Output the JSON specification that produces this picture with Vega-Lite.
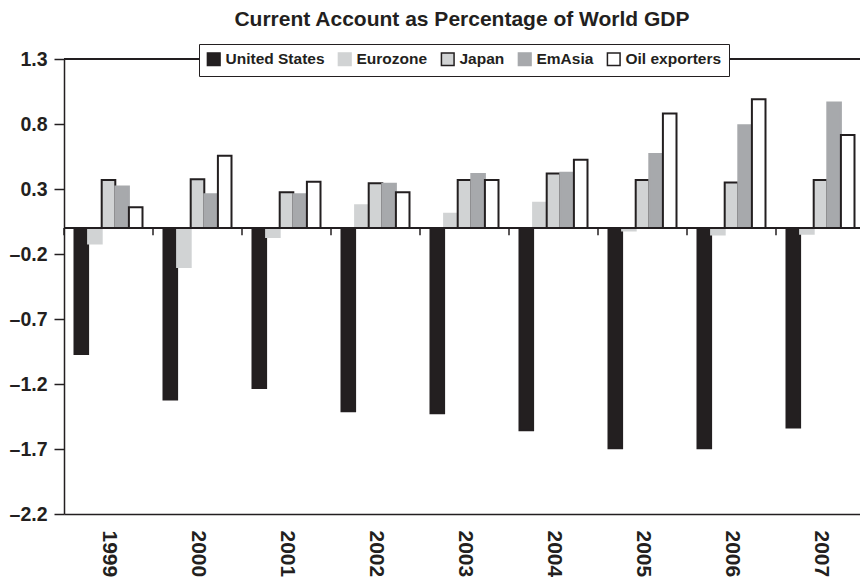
{
  "$schema": "https://vega.github.io/schema/vega-lite/v6.json",
  "width": 796,
  "height": 455,
  "autosize": {"type": "none"},
  "padding": {"left": 64, "top": 59, "right": 0, "bottom": 69},
  "background": "white",
  "config": {
    "view": {"stroke": null},
    "font": "Liberation Sans",
    "title": {"font": "Liberation Sans", "fontSize": 21, "fontWeight": "bold", "color": "#231f20", "anchor": "middle", "offset": 14},
    "axis": {"labelFont": "Liberation Sans", "labelFontWeight": "bold", "labelColor": "#231f20", "domainColor": "#231f20", "tickColor": "#231f20", "domainWidth": 1.5, "tickWidth": 1.5, "grid": false},
    "legend": {"labelFont": "Liberation Sans", "labelFontWeight": "bold", "labelFontSize": 15.5, "labelColor": "#231f20"}
  },
  "title": {"text": "Current Account as Percentage of World GDP"},
  "data": {
    "values": [
      {"year": "1999", "series": "United States", "value": -0.97},
      {"year": "1999", "series": "Eurozone", "value": -0.12},
      {"year": "1999", "series": "Japan", "value": 0.37},
      {"year": "1999", "series": "EmAsia", "value": 0.32},
      {"year": "1999", "series": "Oil exporters", "value": 0.16},
      {"year": "2000", "series": "United States", "value": -1.32},
      {"year": "2000", "series": "Eurozone", "value": -0.3},
      {"year": "2000", "series": "Japan", "value": 0.375},
      {"year": "2000", "series": "EmAsia", "value": 0.26},
      {"year": "2000", "series": "Oil exporters", "value": 0.555},
      {"year": "2001", "series": "United States", "value": -1.23},
      {"year": "2001", "series": "Eurozone", "value": -0.07},
      {"year": "2001", "series": "Japan", "value": 0.275},
      {"year": "2001", "series": "EmAsia", "value": 0.26},
      {"year": "2001", "series": "Oil exporters", "value": 0.355},
      {"year": "2002", "series": "United States", "value": -1.41},
      {"year": "2002", "series": "Eurozone", "value": 0.175},
      {"year": "2002", "series": "Japan", "value": 0.345},
      {"year": "2002", "series": "EmAsia", "value": 0.34},
      {"year": "2002", "series": "Oil exporters", "value": 0.275},
      {"year": "2003", "series": "United States", "value": -1.425},
      {"year": "2003", "series": "Eurozone", "value": 0.11},
      {"year": "2003", "series": "Japan", "value": 0.37},
      {"year": "2003", "series": "EmAsia", "value": 0.415},
      {"year": "2003", "series": "Oil exporters", "value": 0.37},
      {"year": "2004", "series": "United States", "value": -1.555},
      {"year": "2004", "series": "Eurozone", "value": 0.195},
      {"year": "2004", "series": "Japan", "value": 0.42},
      {"year": "2004", "series": "EmAsia", "value": 0.425},
      {"year": "2004", "series": "Oil exporters", "value": 0.525},
      {"year": "2005", "series": "United States", "value": -1.695},
      {"year": "2005", "series": "Eurozone", "value": -0.02},
      {"year": "2005", "series": "Japan", "value": 0.37},
      {"year": "2005", "series": "EmAsia", "value": 0.57},
      {"year": "2005", "series": "Oil exporters", "value": 0.88},
      {"year": "2006", "series": "United States", "value": -1.695},
      {"year": "2006", "series": "Eurozone", "value": -0.05},
      {"year": "2006", "series": "Japan", "value": 0.35},
      {"year": "2006", "series": "EmAsia", "value": 0.79},
      {"year": "2006", "series": "Oil exporters", "value": 0.99},
      {"year": "2007", "series": "United States", "value": -1.535},
      {"year": "2007", "series": "Eurozone", "value": -0.045},
      {"year": "2007", "series": "Japan", "value": 0.37},
      {"year": "2007", "series": "EmAsia", "value": 0.965},
      {"year": "2007", "series": "Oil exporters", "value": 0.715}
    ]
  },
  "layer": [
    {
      "mark": {"type": "bar", "strokeWidth": 2},
      "encoding": {
        "x": {
          "field": "year", "type": "nominal", "sort": null,
          "scale": {"paddingInner": 0, "paddingOuter": 0, "range": [0, 801]},
          "axis": {"title": null, "labelAngle": 90, "labelAlign": "left", "labelBaseline": "middle", "labelFontSize": 21, "ticks": false, "tickSize": 0, "labelPadding": 16}
        },
        "xOffset": {
          "field": "series", "type": "nominal",
          "sort": ["United States", "Eurozone", "Japan", "EmAsia", "Oil exporters"],
          "scale": {"paddingInner": 0, "paddingOuter": 0.772}
        },
        "y": {
          "field": "value", "type": "quantitative",
          "scale": {"domain": [-2.2, 1.3], "nice": false, "zero": false},
          "axis": {
            "title": null,
            "values": [-2.2, -1.7, -1.2, -0.7, -0.2, 0.3, 0.8, 1.3],
            "labelExpr": "datum.value < 0 ? '–' + format(-datum.value, '.1f') : format(datum.value, '.1f')",
            "labelFontSize": 19.5, "tickSize": 10, "labelPadding": 7
          }
        },
        "fill": {
          "field": "series", "type": "nominal",
          "sort": ["United States", "Eurozone", "Japan", "EmAsia", "Oil exporters"],
          "scale": {"domain": ["United States", "Eurozone", "Japan", "EmAsia", "Oil exporters"], "range": ["#231f20", "#d1d3d4", "#d1d3d4", "#a7a9ac", "#ffffff"]},
          "legend": {
            "title": null, "orient": "none", "legendX": 135, "legendY": -15, "direction": "horizontal", "columns": 5,
            "symbolType": "square", "symbolSize": 160, "symbolStrokeWidth": 1.5, "labelOffset": 4, "columnPadding": 10,
            "padding": 7, "strokeColor": "#231f20", "fillColor": "#ffffff", "symbolOpacity": 1
          }
        },
        "stroke": {
          "field": "series", "type": "nominal",
          "sort": ["United States", "Eurozone", "Japan", "EmAsia", "Oil exporters"],
          "scale": {"domain": ["United States", "Eurozone", "Japan", "EmAsia", "Oil exporters"], "range": ["#231f20", "#d1d3d4", "#231f20", "#a7a9ac", "#231f20"]},
          "legend": null
        }
      }
    },
    {
      "transform": [{"filter": "datum.series == 'United States'"}],
      "mark": {"type": "rule", "color": "#231f20", "strokeWidth": 1.5},
      "encoding": {
        "x": {"field": "year", "type": "nominal", "sort": null, "bandPosition": 0},
        "y": {"datum": 0},
        "y2": {"datum": -0.055}
      }
    },
    {
      "mark": {"type": "rule", "color": "#231f20", "strokeWidth": 1.5},
      "encoding": {"y": {"datum": 0}}
    },
    {
      "mark": {"type": "rule", "color": "#231f20", "strokeWidth": 1.5},
      "encoding": {"y": {"datum": 1.3}}
    }
  ]
}
